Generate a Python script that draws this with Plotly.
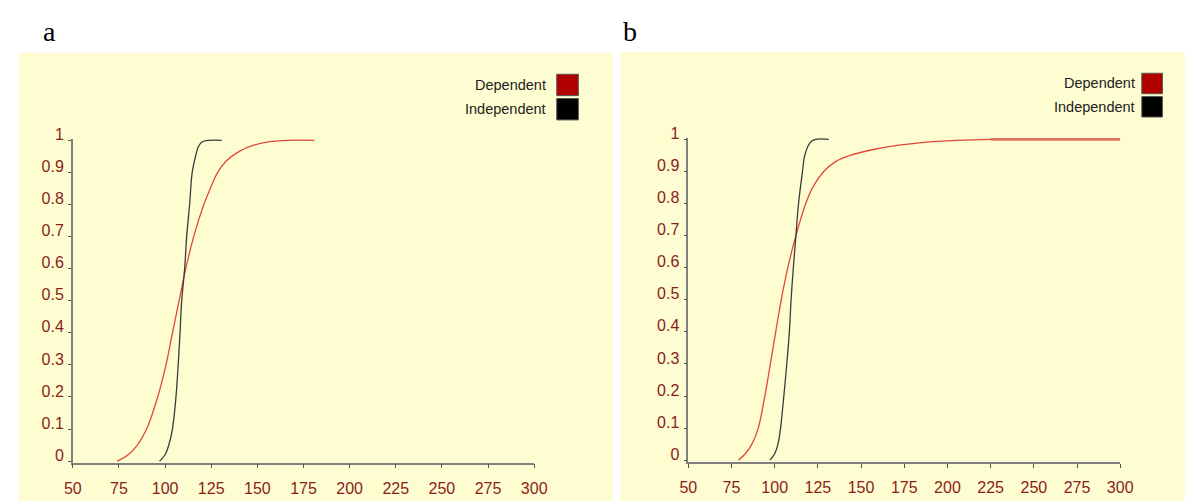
import plotly.graph_objects as go

# ---------------- data ----------------
# Panel a
a_dep_x = [74, 80, 85, 90, 96, 100.5, 104, 107.6, 111.2, 115.5, 121, 124.5, 128.5, 133, 140, 148, 156, 166, 181]
a_dep_y = [0, 0.02, 0.05, 0.1, 0.2, 0.3, 0.4, 0.5, 0.6, 0.7, 0.8, 0.85, 0.9, 0.935, 0.965, 0.985, 0.995, 1.0, 1.0]
a_ind_x = [97, 100, 102, 104, 105.9, 107.1, 108.1, 109, 110.6, 111.7, 113.3, 114.7, 116.5, 118, 120, 123.5, 130.7]
a_ind_y = [0, 0.02, 0.05, 0.1, 0.2, 0.3, 0.4, 0.5, 0.6, 0.7, 0.8, 0.9, 0.95, 0.98, 0.995, 1.0, 1.0]

# Panel b
b_dep_x = [79, 83, 86.8, 90.5, 94.3, 97.5, 100.6, 103.8, 107.6, 112.3, 118, 122.5, 128.4, 135, 143.6, 158.5, 172, 185, 205, 225, 300]
b_dep_y = [0, 0.02, 0.05, 0.1, 0.2, 0.3, 0.4, 0.5, 0.6, 0.7, 0.8, 0.855, 0.9, 0.93, 0.95, 0.97, 0.982, 0.99, 0.997, 1.0, 1.0]
b_ind_x = [97.2, 100, 101.9, 103.4, 105.3, 107, 108.5, 109.5, 110.8, 112.3, 113.8, 116.1, 117.4, 120.5, 123.7, 131.3]
b_ind_y = [0, 0.02, 0.05, 0.1, 0.2, 0.3, 0.4, 0.5, 0.6, 0.7, 0.8, 0.9, 0.95, 0.99, 1.0, 1.0]
b_dep_thick_from = 225  # from here on the Dependent line in panel b is drawn heavier

x_ticks = [50, 75, 100, 125, 150, 175, 200, 225, 250, 275, 300]
y_ticks = [0, 0.1, 0.2, 0.3, 0.4, 0.5, 0.6, 0.7, 0.8, 0.9, 1]
y_tick_text = ["0", "0.1", "0.2", "0.3", "0.4", "0.5", "0.6", "0.7", "0.8", "0.9", "1"]
legend_names = ["Dependent", "Independent"]
panel_labels = ["a", "b"]

# ---------------- styles ----------------
W, H = 1198, 502
BG = "#FEFCD1"
DEP_LINE = "#E0473D"
DEP_THICK = "#E2705F"
IND_LINE = "#3A3A3A"
DEP_BOX = "#B00000"
IND_BOX = "#000000"
TICK_COL = "#8B1C1C"
AXIS_COL = "#808080"

fig = go.Figure()

def add_line(x, y, color, xa, ya, width=1.3):
    fig.add_trace(go.Scatter(
        x=x, y=y, mode="lines", xaxis=xa, yaxis=ya,
        line=dict(color=color, width=width, shape="spline", smoothing=1.0),
        showlegend=False, hoverinfo="skip"))

add_line(a_dep_x, a_dep_y, DEP_LINE, "x", "y")
add_line(a_ind_x, a_ind_y, IND_LINE, "x", "y")
add_line(b_dep_x, b_dep_y, DEP_LINE, "x2", "y2")
thick = [(x, y) for x, y in zip(b_dep_x, b_dep_y) if x >= b_dep_thick_from]
add_line([p[0] for p in thick], [p[1] for p in thick], DEP_THICK, "x2", "y2", width=2.6)
add_line(b_ind_x, b_ind_y, IND_LINE, "x2", "y2")

def px_x(p):
    return p / W

def px_y(p):
    return 1 - p / H

tick_font = dict(family="Liberation Sans, Arial, sans-serif", size=16, color=TICK_COL)

def xaxis_cfg(left, right, anchor):
    return dict(domain=[px_x(left), px_x(right)], range=[50, 300], anchor=anchor,
                tickmode="array", tickvals=x_ticks, ticktext=[str(v) for v in x_ticks],
                showgrid=False, zeroline=False, showline=True, linecolor=AXIS_COL, linewidth=1.5,
                ticks="outside", ticklen=4, tickwidth=1.2, tickcolor="#555555",
                tickfont=tick_font, ticklabelstandoff=6, fixedrange=True)

def yaxis_cfg(bottom, top, anchor):
    return dict(domain=[px_y(bottom), px_y(top)], range=[-0.005, 1.005], anchor=anchor,
                tickmode="array", tickvals=y_ticks, ticktext=y_tick_text,
                showgrid=False, zeroline=False, showline=True, linecolor=AXIS_COL, linewidth=1.5,
                ticks="outside", ticklen=3, tickwidth=1.2, tickcolor="#555555",
                tickfont=tick_font, ticklabelshift=-6, ticklabelstandoff=1, fixedrange=True)

pad = 0.005 * 330
fig.update_layout(
    xaxis=xaxis_cfg(65, 535, "y"),
    yaxis=yaxis_cfg(461 + pad, 131 - pad, "x"),
    xaxis2=xaxis_cfg(692, 1132, "y2"),
    yaxis2=yaxis_cfg(460 + pad, 130 - pad, "x2"),
)

shapes = []
shapes.append(dict(type="rect", xref="paper", yref="paper", layer="below",
                   x0=px_x(10), x1=px_x(615), y0=px_y(502), y1=px_y(41),
                   fillcolor=BG, line=dict(width=0)))
shapes.append(dict(type="rect", xref="paper", yref="paper", layer="below",
                   x0=px_x(623), x1=px_x(1198), y0=px_y(502), y1=px_y(40),
                   fillcolor=BG, line=dict(width=0)))

annotations = []
legend_font = dict(family="Liberation Sans, Arial, sans-serif", size=14.5, color="#222222")

def add_legend(text_right, box_left, box_right, rows):
    for name, (top, bottom), color in zip(legend_names, rows, [DEP_BOX, IND_BOX]):
        shapes.append(dict(type="rect", xref="paper", yref="paper",
                           x0=px_x(box_left), x1=px_x(box_right), y0=px_y(bottom), y1=px_y(top),
                           fillcolor=color, line=dict(color="#555555", width=1)))
        annotations.append(dict(text=name, xref="paper", yref="paper",
                                x=px_x(text_right), y=px_y((top + bottom) / 2),
                                xanchor="right", yanchor="middle", showarrow=False,
                                font=legend_font))

add_legend(549, 558, 580, [(63, 85), (88, 110)])
add_legend(1149, 1154, 1175, [(62, 83), (86, 107)])

label_font = dict(family="Liberation Serif, Times New Roman, serif", size=28, color="#000000")
for lab, xpx in zip(panel_labels, [33, 623]):
    annotations.append(dict(text=lab, xref="paper", yref="paper",
                            x=px_x(xpx), y=px_y(1), xanchor="left", yanchor="top",
                            showarrow=False, font=label_font))

fig.update_layout(
    width=W, height=H, margin=dict(l=0, r=0, t=0, b=0),
    paper_bgcolor="#FFFFFF", plot_bgcolor="rgba(0,0,0,0)",
    shapes=shapes, annotations=annotations, showlegend=False,
)

fig.write_html("out.html", config={"displayModeBar": False},
               post_script="document.body.style.margin='0';document.body.style.padding='0';")
